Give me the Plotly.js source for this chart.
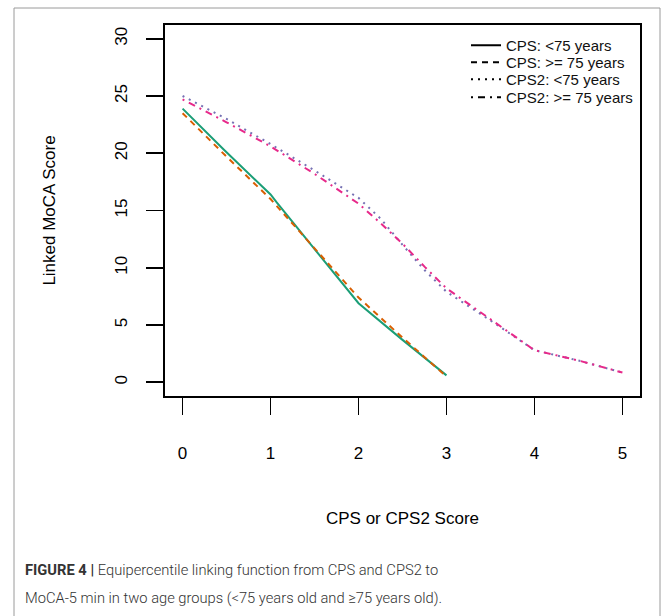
<!DOCTYPE html>
<html>
<head>
<meta charset="utf-8">
<script src="https://cdn.plot.ly/plotly-3.0.1.min.js"></script>
<style>
html,body{margin:0;padding:0;background:#fff;}
#chart{width:669px;height:616px;}
</style>
</head>
<body>
<div id="chart"></div>
<script>
// ---- data ----
const cpsLt75X = [0, 0.47, 1, 1.07, 2, 2.5, 3];
const cpsLt75Y = [23.9, 20.3, 16.4, 15.7, 6.9, 3.7, 0.6];

const cpsGe75X = [0, 0.5, 1, 1.5, 2, 2.5, 3];
const cpsGe75Y = [23.5, 19.7, 16.0, 11.7, 7.4, 3.9, 0.5];

const cps2Lt75X = [0, 0.5, 1, 1.5, 2, 2.25, 2.5, 2.75, 3, 3.5, 4, 4.5, 5];
const cps2Lt75Y = [25.0, 23.0, 20.8, 18.5, 16.1, 14.3, 12.0, 9.8, 7.9, 5.4, 2.8, 1.9, 0.85];

const cps2Ge75X = [0, 0.5, 1, 1.5, 2, 2.25, 2.5, 2.75, 3, 3.5, 4, 4.5, 5];
const cps2Ge75Y = [24.7, 22.7, 20.6, 18.2, 15.6, 13.9, 12.1, 10.1, 8.2, 5.5, 2.8, 1.9, 0.85];

const seriesNames = ["CPS: <75 years", "CPS: >= 75 years", "CPS2: <75 years", "CPS2: >= 75 years"];
const xTicks = [0, 1, 2, 3, 4, 5];
const yTicks = [0, 5, 10, 15, 20, 25, 30];

// ---- styling ----
const colors = ["#1B9E77", "#D95F02", "#7570B3", "#E7298A"];
const dashes = ["solid", "6px,5px", "2px,5px", "2px,5px,7px,5px"];
const xs = [cpsLt75X, cpsGe75X, cps2Lt75X, cps2Ge75X];
const ys = [cpsLt75Y, cpsGe75Y, cps2Lt75Y, cps2Ge75Y];
const legendIds = ["legend", "legend2", "legend3", "legend4"];

const traces = [];
for (let i = 0; i < 4; i++) {
  traces.push({
    x: xs[i], y: ys[i], type: "scatter", mode: "lines",
    line: {color: colors[i], width: 2, dash: dashes[i]},
    showlegend: false, hoverinfo: "x+y"
  });
}
// black legend keys (as in the original)
for (let i = 0; i < 4; i++) {
  traces.push({
    x: [null], y: [null], type: "scatter", mode: "lines",
    name: seriesNames[i], legend: legendIds[i],
    line: {color: "#000", width: 2, dash: dashes[i]},
    showlegend: true
  });
}

const L = 165, R = 640, T = 25, B = 396, W = 669, H = 616;
const px = v => (v - L) / (R - L);
const py = v => (B - v) / (B - T);

const font = "Liberation Sans, Arial, sans-serif";
const capFont = "Roboto, Liberation Sans, Arial, sans-serif";

const legendTops = [29, 46, 63, 81];
function legendBox(top) {
  return {
    x: px(466), y: py(top), xanchor: "left", yanchor: "top",
    bgcolor: "rgba(0,0,0,0)", borderwidth: 0,
    font: {family: font, size: 15, color: "#111"}
  };
}

const layout = {
  width: W, height: H,
  margin: {l: L, r: W - R, t: T, b: H - B},
  paper_bgcolor: "#fff", plot_bgcolor: "#fff",
  font: {family: font, color: "#000", size: 17},
  showlegend: true,
  legend: legendBox(legendTops[0]),
  legend2: legendBox(legendTops[1]),
  legend3: legendBox(legendTops[2]),
  legend4: legendBox(legendTops[3]),
  xaxis: {
    range: [-0.2, 5.2], tickvals: xTicks, ticktext: xTicks.map(String),
    showgrid: false, zeroline: false,
    showline: true, mirror: true, linecolor: "#000", linewidth: 2,
    ticks: "outside", ticklen: 17, tickwidth: 1.8, tickcolor: "#000",
    ticklabelstandoff: 24,
    tickfont: {size: 17, color: "#000"},
    title: {text: "CPS or CPS2 Score", font: {size: 17, color: "#000"}, standoff: 50}
  },
  yaxis: {
    range: [-1.2, 31.2], tickvals: yTicks, ticktext: yTicks.map(String),
    showgrid: false, zeroline: false,
    showline: true, mirror: true, linecolor: "#000", linewidth: 2,
    ticks: "outside", ticklen: 17, tickwidth: 1.8, tickcolor: "#000",
    tickangle: -90, ticklabelstandoff: 12,
    tickfont: {size: 17, color: "#000"},
    title: {text: "Linked MoCA Score", font: {size: 17, color: "#000"}, standoff: 52}
  },
  shapes: [
    {type: "rect", xref: "paper", yref: "paper",
     x0: px(14), x1: px(660), y0: py(640), y1: py(8),
     line: {color: "#9a9a9a", width: 1}, fillcolor: "rgba(0,0,0,0)", layer: "below"}
  ],
  annotations: [
    {xref: "paper", yref: "paper", x: px(23), y: py(570), xanchor: "left", yanchor: "middle",
     showarrow: false, align: "left",
     text: "<b>FIGURE 4 |</b> Equipercentile linking function from CPS and CPS2 to",
     font: {family: capFont, size: 14.7, color: "#333", weight: 300}},
    {xref: "paper", yref: "paper", x: px(23), y: py(598), xanchor: "left", yanchor: "middle",
     showarrow: false, align: "left",
     text: "MoCA-5 min in two age groups (&lt;75 years old and ≥75 years old).",
     font: {family: capFont, size: 14.7, color: "#333", weight: 300}}
  ]
};

Plotly.newPlot("chart", traces, layout, {displayModeBar: false, staticPlot: true});
</script>
</body>
</html>
